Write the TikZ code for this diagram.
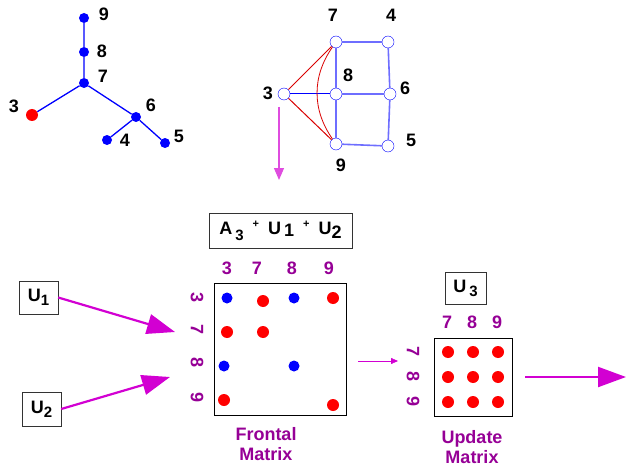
\documentclass[tikz,border=0pt]{standalone}
\usepackage{fontspec}
\setmainfont{Liberation Sans}
\usetikzlibrary{positioning,arrows.meta}

\definecolor{purp}{RGB}{150,0,150}
\definecolor{magen}{RGB}{210,0,210}
\definecolor{lblue}{RGB}{110,110,255}

\newcommand{\subfont}{\fontsize{15}{17}\selectfont}
\newcommand{\plusfont}{\fontsize{11}{13}\selectfont}

\tikzset{
  lbl/.style={font=\fontsize{18}{20}\selectfont\bfseries},
  plbl/.style={font=\fontsize{18}{20}\selectfont\bfseries,text=purp},
  bdot/.style={circle,fill=blue,inner sep=0pt,minimum size=10pt},
  rdot/.style={circle,fill=red,inner sep=0pt,minimum size=12pt},
  gnode/.style={circle,draw=blue,fill=white,inner sep=0pt,minimum size=12pt},
  ubox/.style={draw=black!80,font=\fontsize{18}{20}\selectfont\bfseries,inner sep=4pt},
  bigarrow/.style={magen,line width=2.2pt,-{Triangle[length=28pt,width=20pt]}}
}

\begin{document}
\begin{tikzpicture}[x=1pt,y=-1pt]
\useasboundingbox (0,0) rectangle (626,468);

% elimination tree
\node[bdot] (t9) at (84,18) {};
\node[bdot] (t8) at (84,52) {};
\node[bdot] (t7) at (84,83) {};
\node[rdot] (t3) at (32,115) {};
\node[bdot] (t6) at (136,117) {};
\node[bdot] (t4) at (107,140) {};
\node[bdot] (t5) at (165,143) {};
\draw[blue,line width=1.3pt] (t9) -- (t8) -- (t7) -- (t3);
\draw[blue,line width=1.3pt] (t7) -- (t6) -- (t4);
\draw[blue,line width=1.3pt] (t6) -- (t5);
\node[lbl] at (104,14) {9};
\node[lbl] at (102,51) {8};
\node[lbl] at (103,76) {7};
\node[lbl] at (14,106) {3};
\node[lbl] at (151,105) {6};
\node[lbl] at (125,140) {4};
\node[lbl] at (179,136) {5};

% graph
\node[gnode] (g7) at (336,42) {};
\node[gnode] (g4) at (388,42) {};
\node[gnode] (g3) at (284,94) {};
\node[gnode] (g8) at (336,94) {};
\node[gnode] (g6) at (390,94) {};
\node[gnode] (g9) at (336,144) {};
\node[gnode] (g5) at (388,146) {};
\draw[lblue,line width=1.6pt] (g7) -- (g4) -- (g6) -- (g5) -- (g9) -- (g8) -- (g7);
\draw[lblue,line width=1.6pt] (g8) -- (g6);
\draw[blue,line width=1pt] (g3) -- (g8);
\draw[red!85!black,line width=1pt] (g3) -- (g7);
\draw[red!85!black,line width=1pt] (g3) -- (g9);
\draw[red!85!black,line width=0.8pt] (g7) to[bend right=35] (g9);
\node[lbl] at (333,15) {7};
\node[lbl] at (391,15) {4};
\node[lbl] at (348,75) {8};
\node[lbl] at (405,88) {6};
\node[lbl] at (268,93) {3};
\node[lbl] at (341,165) {9};
\node[lbl] at (411,140) {5};
\coordinate (d1) at (279,107);
\coordinate (d2) at (279,180);
\draw[magen!70,line width=1.2pt,-{Triangle[length=12pt,width=10pt]}] (d1) -- (d2);

% frontal matrix
\node[ubox,minimum width=143pt,minimum height=35pt] (front) at (280.5,231)
  {A\,\raisebox{-0.7ex}{\subfont 3}\hspace{9pt}\raisebox{0.7ex}{\plusfont+}\hspace{9pt}U\,\raisebox{-0.3ex}{1}\hspace{9pt}\raisebox{0.7ex}{\plusfont+}\hspace{9pt}U\raisebox{-0.5ex}{2}};
\node[draw,minimum width=132pt,minimum height=132pt] (fm) at (280,349) {};
\foreach \c/\x in {3/227,7/257,8/292,9/329}
  \node[plbl] at (\x,268) {\c};
\foreach \c/\y in {3/298,7/330,8/363,9/398}
  \node[plbl,rotate=-90] at (197,\y) {\c};
\node[bdot,minimum size=11pt] (f1) at (227,298) {};
\node[rdot] (f2) at (263,301) {};
\node[bdot,minimum size=11pt] (f3) at (294,298) {};
\node[rdot] (f4) at (333,298) {};
\node[rdot] (f5) at (227,332) {};
\node[rdot] (f6) at (263,332) {};
\node[bdot,minimum size=11pt] (f7) at (224,366) {};
\node[bdot,minimum size=11pt] (f8) at (294,366) {};
\node[rdot] (f9) at (224,400) {};
\node[rdot] (f10) at (333,405) {};
\node[plbl,align=center] (ftxt) at (266,444) {Frontal\\Matrix};

% update matrix
\node[ubox,minimum width=41pt,minimum height=32pt] (u3) at (465.5,288) {U\,\raisebox{-0.4ex}{\subfont 3}};
\node[draw,minimum width=78pt,minimum height=78pt] (um) at (473,377) {};
\foreach \c/\x in {7/447,8/472,9/497}
  \node[plbl] at (\x,322) {\c};
\foreach \c/\y in {7/352,8/377,9/402}
  \node[plbl,rotate=-90] at (413,\y) {\c};
\foreach \x in {448,473,498}
  \foreach \y in {352,377,402}
    \node[rdot] at (\x,\y) {};
\node[plbl,align=center] (utxt) at (472,447) {Update\\Matrix};

% update boxes and arrows
\node[ubox,minimum width=39pt,minimum height=33pt] (u1) at (38.5,297.5) {U\raisebox{-0.4ex}{\subfont 1}};
\node[ubox,minimum width=39pt,minimum height=34pt] (u2) at (41.5,409) {U\raisebox{-0.4ex}{\subfont 2}};
\coordinate (a1) at (175,332);
\coordinate (a2) at (170,377);
\draw[bigarrow] (u1.east) -- (a1);
\draw[bigarrow] (u2.east) -- (a2);
\coordinate (m1) at (358,361);
\coordinate (m2) at (398,361);
\draw[magen,-{Triangle[length=7pt,width=6pt]}] (m1) -- (m2);
\coordinate (r1) at (525,377);
\draw[bigarrow] (r1) -- (626,377);

\end{tikzpicture}
\end{document}
